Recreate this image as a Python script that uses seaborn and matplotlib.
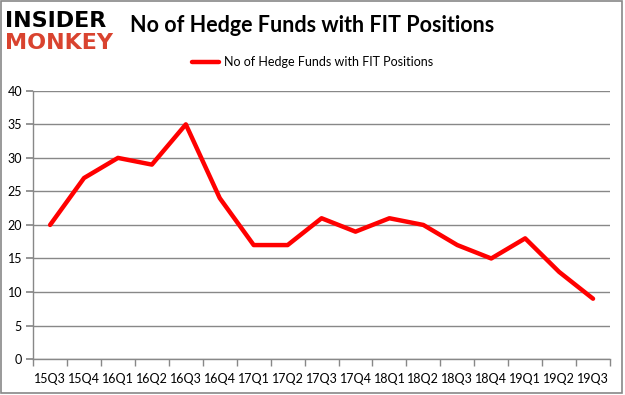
import matplotlib
matplotlib.use("Agg")
import matplotlib.pyplot as plt
import seaborn as sns
import pandas as pd
from matplotlib.patches import Rectangle

quarters = ["15Q3", "15Q4", "16Q1", "16Q2", "16Q3", "16Q4", "17Q1", "17Q2", "17Q3",
            "17Q4", "18Q1", "18Q2", "18Q3", "18Q4", "19Q1", "19Q2", "19Q3"]
funds = [20, 27, 30, 29, 35, 24, 17, 17, 21, 19, 21, 20, 17, 15, 18, 13, 9]
yticks = [0, 5, 10, 15, 20, 25, 30, 35, 40]
series_name = "No of Hedge Funds with FIT Positions"

sns.set_theme(style="white")
plt.rcParams["font.family"] = ["Lato", "DejaVu Sans"]
plt.rcParams["text.color"] = "black"
plt.rcParams["xtick.labelcolor"] = "black"
plt.rcParams["ytick.labelcolor"] = "black"

df = pd.DataFrame({"quarter": quarters, "funds": funds, "series": series_name})

fig = plt.figure(figsize=(6.25, 3.95), dpi=100)
ax = fig.add_axes([0.053, 0.091, 0.923, 0.679])

x = list(range(len(quarters)))
df["x"] = x
sns.lineplot(data=df, x="x", y="funds", hue="series", palette=["#ff0000"],
             linewidth=3.2, ax=ax, sort=False, legend=False)

ax.set_xlim(-0.5, len(quarters) - 0.5)
ax.set_ylim(0, 40)
ax.set_yticks(yticks)
ax.set_yticklabels([str(v) for v in yticks], fontsize=9)
ax.set_xticks(x)
ax.set_xticklabels(quarters, fontsize=9)
ax.set_xticks([i - 0.5 for i in range(len(quarters) + 1)], minor=True)
ax.tick_params(axis="x", which="major", length=0, pad=10, labelcolor="black")
ax.tick_params(axis="x", which="minor", length=5, color="#888888", bottom=True, direction="out")
ax.tick_params(axis="y", which="major", length=5, color="#888888", left=True, direction="out",
               pad=3, labelcolor="black")
ax.set_xlabel("")
ax.set_ylabel("")
ax.grid(axis="y", color="#888888", linewidth=1)
ax.set_axisbelow(True)
for s in ["top", "right"]:
    ax.spines[s].set_visible(False)
ax.spines["left"].set_color("#888888")
ax.spines["bottom"].set_color("#888888")
ax.spines["left"].set_linewidth(1)
ax.spines["bottom"].set_linewidth(1)

# Title
fig.text(0.50, 0.935, series_name, ha="center", va="center", fontsize=15.5,
         fontweight="bold", color="black")

# Legend
ax.plot([], [], color="#ff0000", linewidth=3.2, label=series_name)
leg = fig.legend(loc="center", bbox_to_anchor=(0.50, 0.843), frameon=False, fontsize=9,
                 handlelength=2.2, handletextpad=0.4)

# Logo
fig.text(0.008, 0.932, "INSIDER", fontsize=16, fontweight="heavy", color="black",
         ha="left", va="baseline", family=["DejaVu Sans"])
fig.text(0.008, 0.876, "MONKEY", fontsize=16, fontweight="heavy", color="#d9432f",
         ha="left", va="baseline", family=["DejaVu Sans"])

# Border
fig.patches.append(Rectangle((0.002, 0.005), 0.993, 0.992, transform=fig.transFigure,
                             fill=False, edgecolor="#888888", linewidth=1.2))

fig.savefig("out.png", dpi=100)
